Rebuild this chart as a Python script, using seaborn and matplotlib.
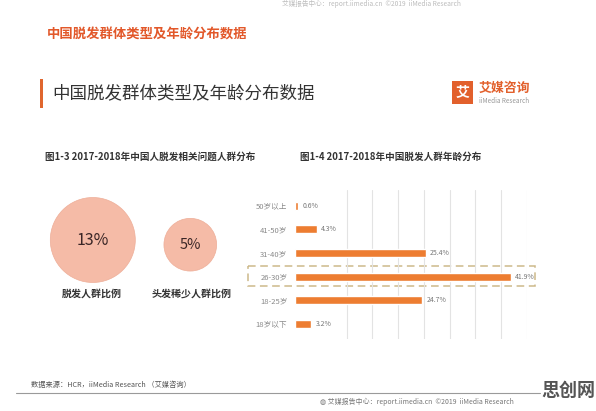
import matplotlib
matplotlib.use("Agg")
import matplotlib.pyplot as plt
import seaborn as sns
import pandas as pd
from matplotlib.patches import Rectangle

# ---------------- data ----------------
age_groups = ['50岁以上', '41-50岁', '31-40岁', '26-30岁', '18-25岁', '18岁以下']
age_share = [0.6, 4.3, 25.4, 41.9, 24.7, 3.2]
group_labels = ['脱发人群比例', '头发稀少人群比例']
group_share = [13, 5]
group_value_text = ['13%', '5%']

main_title = '中国脱发群体类型及年龄分布数据'
fig13_title = '图1-3 2017-2018年中国人脱发相关问题人群分布'
fig14_title = '图1-4 2017-2018年中国脱发人群年龄分布'
source_text = '数据来源：HCR，iiMedia Research （艾媒咨询）'
footer_text = '艾媒报告中心：report.iimedia.cn  ©2019  iiMedia Research'

sns.set_theme(style="white")
plt.rcParams['font.family'] = ['Noto Sans CJK SC', 'DejaVu Sans']

W, H = 596, 411
fig = plt.figure(figsize=(W / 100, H / 100), dpi=100)
fig.patch.set_facecolor('white')

# full-figure pixel axes for decoration
ax0 = fig.add_axes([0, 0, 1, 1])
ax0.set_xlim(0, W)
ax0.set_ylim(H, 0)
ax0.axis('off')
ax0.patch.set_alpha(0)

ORANGE = '#ed7d31'
TITLE_RED = '#e2582a'

# faint header text
ax0.text(282, 4, footer_text, fontsize=4.8, color='#bdbdbd', va='center', ha='left')

# page title
ax0.text(47, 35, main_title, fontsize=9.6, color=TITLE_RED, fontweight='bold',
         va='center', ha='left')

# section title with accent bar
ax0.add_patch(Rectangle((39.5, 79), 3, 29, color='#e0662e', lw=0))
ax0.text(52, 93.5, main_title, fontsize=12.6, color='#333333', va='center', ha='left')

# logo
ax0.add_patch(Rectangle((452, 81), 21, 23, color='#e2602c', lw=0))
ax0.text(462.5, 92.5, '艾', fontsize=10, color='white', fontweight='bold',
         va='center', ha='center')
ax0.text(479, 88, '艾媒咨询', fontsize=9.3, color='#e2602c', fontweight='bold',
         va='center', ha='left')
ax0.text(479, 101, 'iiMedia Research', fontsize=4.6, color='#999999',
         va='center', ha='left')

# sub titles
ax0.text(45, 157, fig13_title, fontsize=6.9, color='#333333', fontweight='bold',
         va='center', ha='left')
ax0.text(300, 157, fig14_title, fontsize=6.9, color='#333333', fontweight='bold',
         va='center', ha='left')

# circles (area proportional to share)
circle_x = [92.8, 190.3]
circle_y = [240.0, 244.7]
circ_df = pd.DataFrame({'x': circle_x, 'y': circle_y, 'share': group_share})
sns.scatterplot(data=circ_df, x='x', y='y', size='share',
                sizes={v: v * 288 for v in group_share},
                color='#f5bba7', edgecolor='#eeae98', linewidth=0.5,
                legend=False, ax=ax0, zorder=2)
ax0.set_xlim(0, W)
ax0.set_ylim(H, 0)
ax0.axis('off')
for cx, cy, t, fs in zip(circle_x, circle_y, group_value_text, [11.5, 10.5]):
    ax0.text(cx, cy, t, fontsize=fs, color='#3a2626', va='center', ha='center', zorder=3)
for cx, lab in zip([92, 192], group_labels):
    ax0.text(cx, 294, lab, fontsize=7.2, color='#333333', fontweight='bold',
             va='center', ha='center')

# dashed highlight box around 26-30 row
ax0.add_patch(Rectangle((248, 265.5), 287, 20, fill=False, edgecolor='#cdb98a',
                        lw=1.1, linestyle=(0, (5, 3)), zorder=1))

# footer
ax0.text(31, 385, source_text, fontsize=5.2, color='#555555', va='center', ha='left')
ax0.plot([16, 540], [393, 393], color='#9a9a9a', lw=0.8)
ax0.text(320, 402, '◍ ' + footer_text, fontsize=5, color='#777777', va='center', ha='left')
ax0.text(568, 390, '思创网', fontsize=13, color='#555555', fontweight='bold',
         va='center', ha='center')

# ---------------- bar chart ----------------
row = 23.66
top_px = 205.7 - 0.65 * row
bot_px = 324.0 + 0.65 * row
left_px, right_px = 295, 527
ax = fig.add_axes([left_px / W, 1 - bot_px / H, (right_px - left_px) / W, (bot_px - top_px) / H])
ax.patch.set_alpha(0)
bar_df = pd.DataFrame({'age': age_groups, 'share': age_share})
sns.barplot(data=bar_df, x='share', y='age', color=ORANGE, saturation=1,
            width=0.33, orient='h', ax=ax, zorder=3)
ax.set_xlim(0, 45)
ax.set_ylim(5.65, -0.65)
for gx in range(10, 50, 5):
    ax.axvline(gx, color='#e3e3e3', lw=0.8, zorder=1)
for i, v in enumerate(age_share):
    ax.text(v + 0.8, i, f'{v}%', fontsize=5, color='#777777', va='center', ha='left')
ax.set_xlabel('')
ax.set_ylabel('')
ax.set_xticks([])
ax.tick_params(axis='y', length=0, pad=5.5, labelsize=5.5, labelcolor='#8a8a8a')
for s in ax.spines.values():
    s.set_visible(False)

fig.savefig('out.png', dpi=100, facecolor='white')
